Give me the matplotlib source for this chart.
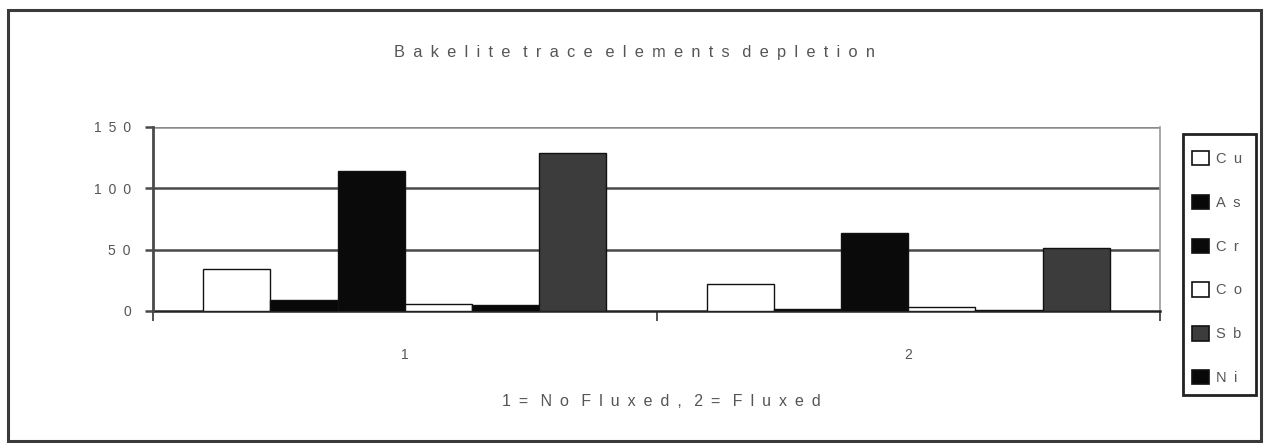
import matplotlib
matplotlib.use("Agg")
import matplotlib.pyplot as plt
from matplotlib.patches import Rectangle, Patch

plt.rcParams['font.family'] = ['Liberation Sans', 'DejaVu Sans']

# ---- data ----
categories = ["1", "2"]
series_names = ["Cu", "As", "Cr", "Co", "Ni", "Sb"]          # order of bars in each group
series_values = {
    "Cu": [34, 22],
    "As": [9, 1.5],
    "Cr": [114, 63.5],
    "Co": [5.5, 3],
    "Ni": [5, 1],
    "Sb": [129, 51],
}
legend_order = ["Cu", "As", "Cr", "Co", "Sb", "Ni"]
series_colors = {
    "Cu": "#ffffff",
    "As": "#080808",
    "Cr": "#0a0a0a",
    "Co": "#ffffff",
    "Ni": "#080808",
    "Sb": "#3c3c3c",
}
y_ticks = [0, 50, 100, 150]
title = "Bakelite trace elements depletion"
x_title = "1= No Fluxed, 2= Fluxed"

TXT = "#555555"
EN = "\u2002"


def spaced(s):
    return (EN + " ").join(EN.join(w) for w in s.split(" "))


W, H = 1264, 443
fig = plt.figure(figsize=(W / 100, H / 100), dpi=100)
fig.patch.set_facecolor("white")

# outer frame
fig.add_artist(Rectangle((8 / W, 1 - 441 / H), (1261 - 8) / W, (441 - 10) / H,
                         transform=fig.transFigure, fill=False,
                         edgecolor="#3a3a3a", linewidth=2.2))

ax = fig.add_axes([153 / W, 1 - 311 / H, (1160 - 153) / W, (311 - 127) / H])

n = len(series_names)
gap = 1.5
bw = 1.0 / (n + gap)
xs = list(range(len(categories)))
for i, name in enumerate(series_names):
    off = (i - (n - 1) / 2) * bw
    ax.bar([x + off for x in xs], series_values[name], width=bw,
           color=series_colors[name], edgecolor="#111111", linewidth=1.0,
           zorder=3, label=name)

ax.set_xlim(-0.5, len(categories) - 0.5)
ax.set_ylim(0, 150)

# gridlines
for yv in y_ticks[1:]:
    ax.axhline(yv, color="#8a8a8a" if yv == 150 else "#4a4a4a",
               linewidth=1.8, zorder=1)

for s in ["top", "left"]:
    ax.spines[s].set_visible(False)
ax.spines["right"].set_color("#999999")
ax.spines["right"].set_linewidth(1.2)
ax.spines["bottom"].set_color("#222222")
ax.spines["bottom"].set_linewidth(1.8)
ax.axvline(-0.5, color="#4a4a4a", linewidth=2.0, zorder=4, clip_on=False)

ax.set_yticks(y_ticks)
ax.set_yticklabels([spaced(str(v)) for v in y_ticks], color=TXT, fontsize=10)
ax.tick_params(axis="y", length=6, width=1.8, color="#4a4a4a", pad=10)

# category ticks between categories
ax.set_xticks([x - 0.5 for x in xs] + [len(categories) - 0.5])
ax.set_xticklabels([])
ax.tick_params(axis="x", length=7, width=1.2, color="#333333", direction="out")
for x, c in zip(xs, categories):
    ax.annotate(spaced(c), xy=(x, 0), xycoords=("data", "axes fraction"),
                xytext=(0, -(355 - 311)), textcoords="offset pixels",
                ha="center", va="center", color=TXT, fontsize=10)

fig.text(635 / W, 1 - 53 / H, spaced(title), ha="center", va="center",
         color=TXT, fontsize=11.8)
fig.text(661 / W, 1 - 401 / H, spaced(x_title), ha="center", va="center",
         color=TXT, fontsize=11.5)

# legend frame drawn separately
fig.add_artist(Rectangle((1183 / W, 1 - 395 / H), (1256 - 1183) / W, (395 - 134) / H,
                         transform=fig.transFigure, fill=False,
                         edgecolor="#222222", linewidth=2.0))
handles = [Patch(facecolor=series_colors[nm], edgecolor="#111111", linewidth=1.2)
           for nm in legend_order]
leg = fig.legend(handles, [spaced(nm) for nm in legend_order],
                 loc="center left", bbox_to_anchor=(1192 / W, 1 - 268 / H),
                 frameon=False, fontsize=10.5, labelcolor=TXT,
                 handlelength=1.15, handleheight=1.15, handletextpad=0.5,
                 labelspacing=1.96, borderpad=0.0, borderaxespad=0)

fig.savefig("out.png", dpi=100, facecolor="white")
